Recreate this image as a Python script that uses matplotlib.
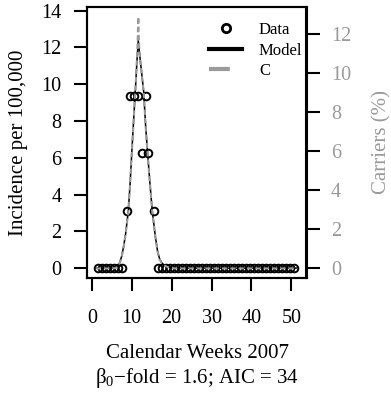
import matplotlib
matplotlib.use("Agg")
import matplotlib.pyplot as plt
from matplotlib.lines import Line2D

plt.rcParams['font.family'] = ['Liberation Serif', 'DejaVu Serif']
plt.rcParams['mathtext.fontset'] = 'custom'
plt.rcParams['mathtext.rm'] = 'Liberation Serif'

# Observed incidence per 100,000 (open circles)
obs_weeks = [1.65, 2.65, 3.65, 4.65, 5.65, 6.65, 7.65, 8.85, 9.65, 10.65, 11.65,
             12.65, 13.65, 14.15, 15.65, 16.65, 17.65, 18.65, 19.65, 20.65, 21.65,
             22.65, 23.65, 24.65, 25.65, 26.65, 27.65, 28.65, 29.65, 30.65, 31.65,
             32.65, 33.65, 34.65, 35.65, 36.65, 37.65, 38.65, 39.65, 40.65, 41.65,
             42.65, 43.65, 44.65, 45.65, 46.65, 47.65, 48.65, 49.65, 50.65]
obs_values = [0, 0, 0, 0, 0, 0, 0, 3.125, 9.375, 9.375, 9.375,
              6.25, 9.375, 6.25, 3.125, 0, 0, 0, 0, 0, 0,
              0, 0, 0, 0, 0, 0, 0, 0, 0, 0,
              0, 0, 0, 0, 0, 0, 0, 0, 0, 0,
              0, 0, 0, 0, 0, 0, 0, 0, 0]

# Model fit (incidence per 100,000)
model_weeks = [1.0, 5.0, 6.0, 6.5, 7.0, 7.5, 8.0, 8.5, 9.15, 9.6, 10.0, 10.5, 11.0,
               11.3, 11.65, 12.0, 12.5, 13.0, 13.5, 14.0, 14.5, 15.15, 15.6, 16.0,
               16.5, 17.0, 17.5, 18.0, 19.0, 20.0, 21.0, 51.3]
model_values = [0, 0, 0.02, 0.1, 0.3, 0.65, 1.2, 1.9, 3.1, 4.6, 6.2, 8.1, 10.0,
                11.2, 12.4, 11.6, 10.6, 9.6, 7.7, 6.2, 4.8, 3.1, 2.3, 1.6,
                0.9, 0.5, 0.3, 0.18, 0.07, 0.02, 0, 0]

# Carriers (%) on right axis
carrier_weeks = [1.0, 5.0, 6.0, 6.5, 7.0, 7.5, 8.0, 8.5, 9.15, 9.6, 10.0, 10.5, 11.0,
                 11.3, 11.5, 11.65, 11.8, 12.0, 12.5, 13.0, 13.5, 14.0, 14.5, 15.15,
                 15.6, 16.0, 16.5, 17.0, 17.5, 18.0, 19.0, 20.0, 21.0, 51.3]
carrier_values = [0, 0, 0.02, 0.09, 0.28, 0.61, 1.13, 1.79, 2.92, 4.34, 5.85, 7.64, 9.43,
                  10.7, 11.7, 12.9, 11.7, 10.94, 10.0, 9.05, 7.26, 5.85, 4.53, 2.92,
                  2.17, 1.51, 0.85, 0.47, 0.28, 0.17, 0.07, 0.02, 0, 0]

x_ticks = [0, 10, 20, 30, 40, 50]
left_ticks = [0, 2, 4, 6, 8, 10, 12, 14]
right_ticks = [0, 2, 4, 6, 8, 10, 12]

GREY = '#9a9a9a'

fig = plt.figure(figsize=(3.91, 3.94), dpi=100)
ax = fig.add_axes([87 / 391, 1 - 278 / 394, (306.5 - 87) / 391, (278 - 7) / 394])
ax2 = ax.twinx()

ax.plot(model_weeks, model_values, color='black', lw=1.1, zorder=3)
ax.plot(obs_weeks, obs_values, linestyle='none', marker='o', markersize=5.5,
        markerfacecolor='none', markeredgecolor='black', markeredgewidth=1.4, zorder=4)
ax2.plot(carrier_weeks, carrier_values, color=GREY, lw=1.5, dashes=(2.5, 1.5), zorder=5)

ax.set_xlim(-1.2, 53.8)
ax.set_ylim(-0.54, 14.2)
ax2.set_ylim(-0.49, 13.41)

ax.set_xticks(x_ticks)
ax.set_yticks(left_ticks)
ax2.set_yticks(right_ticks)

for a in (ax, ax2):
    for s in a.spines.values():
        s.set_linewidth(1.5)
ax.tick_params(axis='x', direction='out', length=9.5, width=1.5, pad=13, labelsize=14.5)
ax.tick_params(axis='y', direction='out', length=9.5, width=1.5, pad=9, labelsize=14.5)
ax2.tick_params(axis='y', direction='out', length=9.5, width=1.5, pad=8, labelsize=14.5,
                labelcolor=GREY, color='black')

fig.text(19 / 391, 1 - 142.5 / 394, 'Incidence per 100,000', rotation=90,
         ha='center', va='center', fontsize=15)
fig.text(382 / 391, 1 - 142.5 / 394, 'Carriers (%)', rotation=90,
         ha='center', va='center', fontsize=15, color=GREY)
fig.text(197 / 391, 1 - 358 / 394, 'Calendar Weeks 2007', ha='center',
         va='baseline', fontsize=15)
fig.text(197 / 391, 1 - 383 / 394, r'$\mathrm{β_0}$−fold = 1.6; AIC = 34', ha='center',
         va='baseline', fontsize=15)

handles = [
    Line2D([], [], linestyle='none', marker='o', markersize=6, markerfacecolor='none',
           markeredgecolor='black', markeredgewidth=2),
    Line2D([], [], color='black', lw=3),
    Line2D([], [], color=GREY, lw=3, dashes=(5, 5)),
]
ax.legend(handles, ['Data', 'Model', 'C'], loc='upper left',
          bbox_to_anchor=(209 / 391, 1 - 22 / 394), bbox_transform=fig.transFigure,
          frameon=False, fontsize=12, borderpad=0, borderaxespad=0,
          handlelength=2.0, handletextpad=1.0, labelspacing=0.28)

fig.savefig('out.png', dpi=100)
